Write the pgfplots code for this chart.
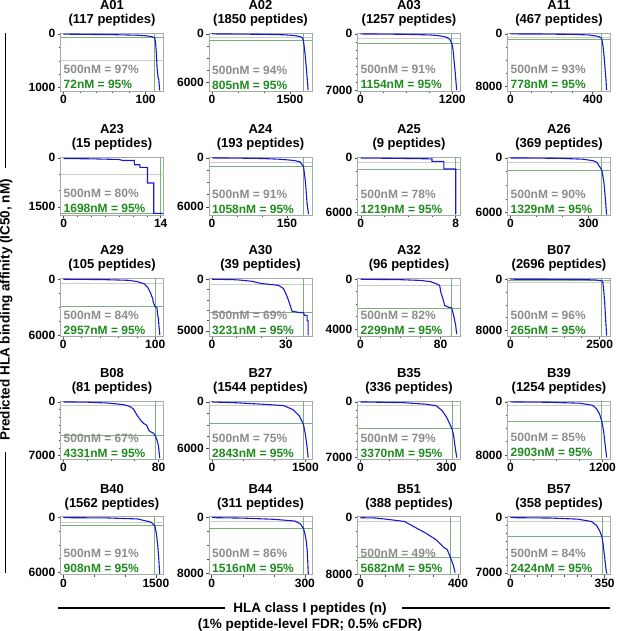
\documentclass[border=0pt]{standalone}
\usepackage{fontspec}
\setmainfont{Liberation Sans}
\usepackage{pgfplots}
\pgfplotsset{compat=1.18}
\definecolor{cblue}{RGB}{25,25,210}
\definecolor{glinec}{RGB}{120,180,120}
\definecolor{gtextc}{RGB}{30,140,30}
\definecolor{grtextc}{RGB}{140,140,140}
\definecolor{grlinec}{RGB}{205,205,205}
\definecolor{framecol}{RGB}{165,172,165}
\pgfplotsset{
 every axis title shift=0pt,
 pan/.style={
  anchor=north west, scale only axis, width=103pt, height=58pt,
  y dir=reverse, axis line style={framecol, line width=0.8pt},
  tick pos=left, tick align=outside, major tick length=3pt, minor tick length=2pt,
  every tick/.style={black!70, line width=0.6pt},
  scaled ticks=false,
  /pgf/number format/assume math mode=true,
  /pgf/number format/1000 sep={},
  tick label style={font=\bfseries\fontsize{12}{12}\selectfont},
  xticklabel style={inner sep=1pt},
  yticklabel style={inner sep=2pt},
  title style={font=\bfseries\fontsize{13}{14}\selectfont, align=center, at={(0.5,1)}, anchor=south, inner sep=0pt, yshift=6.5pt},
  clip=true,
 },
 curve/.style={cblue, line width=1.1pt, no marks},
 gfive/.style={grlinec, line width=0.8pt, no marks},
 gthr/.style={glinec, line width=0.8pt, no marks},
}
% #1 xmin #2 xmax #3 ymin #4 ymax #5 threshold #6 vertical x
\newcommand{\refl}[6]{%
 \addplot[gfive] coordinates {(#1,500) (#2,500)};
 \addplot[gthr] coordinates {(#1,#5) (#2,#5)};
 \addplot[gthr] coordinates {(#6,#3) (#6,#4)};
}
% #1 percent at 500 nM, #2 threshold
\newcommand{\ptxt}[2]{%
 \node[anchor=base west, inner sep=0pt, text=grtextc, font=\bfseries\fontsize{12}{12}\selectfont, xshift=3pt, yshift=17pt] at (axis description cs:0,0) {500nM = #1\%};
 \node[anchor=base west, inner sep=0pt, text=gtextc, font=\bfseries\fontsize{12}{12}\selectfont, xshift=3pt, yshift=2pt] at (axis description cs:0,0) {#2nM = 95\%};
}
\begin{document}
\begin{tikzpicture}
\useasboundingbox (0,0) rectangle (617pt,-631pt);

% ---------------- Row 1 ----------------
\begin{axis}[pan, at={(60.5pt,-33pt)}, xmin=-3.5, xmax=121.7, ymin=-16, ymax=1060,
  xtick={0,100}, ytick={0,1000}, minor x tick num=4, minor y tick num=3,
  title={A01\\(117 peptides)}]
\refl{-3.5}{121.7}{-16}{1060}{72}{111.2}
\addplot[curve] coordinates {(0,5) (30,10) (60,15) (90,25) (100,35) (105,45) (108,55) (111,72) (112,150) (113,350) (113.5,500) (114,650) (115,800) (116,850) (116.5,950) (117,1050)};
\ptxt{97}{72}
\end{axis}

\begin{axis}[pan, at={(209pt,-33pt)}, xmin=-55, xmax=1924, ymin=-105, ymax=7100,
  xtick={0,1500}, ytick={0,6000}, minor x tick num=2, minor y tick num=3,
  title={A02\\(1850 peptides)}]
\refl{-55}{1924}{-105}{7100}{805}{1757.5}
\addplot[curve] coordinates {(0,10) (500,30) (1000,60) (1400,120) (1600,220) (1700,350) (1739,500) (1757,805) (1775,1600) (1795,2800) (1815,4200) (1835,5800) (1850,7000)};
\ptxt{94}{805}
\end{axis}

\begin{axis}[pan, at={(357.5pt,-33pt)}, xmin=-38, xmax=1307, ymin=-105, ymax=7050,
  xtick={0,1200}, ytick={0,7000}, minor x tick num=3, minor y tick num=6,
  title={A03\\(1257 peptides)}]
\refl{-38}{1307}{-105}{7050}{1154}{1194}
\addplot[curve] coordinates {(0,10) (300,30) (600,60) (900,130) (1000,200) (1100,350) (1144,500) (1170,750) (1194,1154) (1210,2000) (1225,3500) (1240,5000) (1257,6950)};
\ptxt{91}{1154}
\end{axis}

\begin{axis}[pan, at={(507.5pt,-33pt)}, xmin=-14, xmax=486, ymin=-130, ymax=8750,
  xtick={0,400}, ytick={0,8000}, minor x tick num=3, minor y tick num=3,
  title={A11\\(467 peptides)}]
\refl{-14}{486}{-130}{8750}{778}{443.6}
\addplot[curve] coordinates {(0,10) (150,30) (300,80) (380,170) (420,350) (434,500) (444,778) (450,2000) (455,3500) (460,5500) (464,7000) (467,8600)};
\ptxt{93}{778}
\end{axis}

% ---------------- Row 2 ----------------
\begin{axis}[pan, at={(60.5pt,-157pt)}, xmin=-0.45, xmax=14.4, ymin=-26, ymax=1750,
  xtick={0,14}, ytick={0,1500}, minor x tick num=6, minor y tick num=2,
  title={A23\\(15 peptides)}]
\refl{-0.45}{14.4}{-26}{1750}{1698}{13.9}
\addplot[curve] coordinates {(0,20) (4,30) (8,50) (8.5,80) (10.2,80) (10.2,210) (11,210) (11,290) (12.1,290) (12.1,770) (13,770) (13,1698) (14.3,1698)};
\ptxt{80}{1698}
\end{axis}

\begin{axis}[pan, at={(209pt,-157pt)}, xmin=-6, xmax=200, ymin=-105, ymax=7000,
  xtick={0,150}, ytick={0,6000}, minor x tick num=2, minor y tick num=3,
  title={A24\\(193 peptides)}]
\refl{-6}{200}{-105}{7000}{1058}{183.4}
\addplot[curve] coordinates {(0,10) (50,30) (100,80) (140,180) (165,330) (176,500) (183,1058) (186,2500) (188,3800) (190,5500) (193,6900)};
\ptxt{91}{1058}
\end{axis}

\begin{axis}[pan, at={(357.5pt,-157pt)}, xmin=-0.28, xmax=8.4, ymin=-94, ymax=6250,
  xtick={0,8}, ytick={0,6000}, minor x tick num=3, minor y tick num=3,
  title={A25\\(9 peptides)}]
\refl{-0.28}{8.4}{-94}{6250}{1219}{8}
\addplot[curve] coordinates {(0,20) (2,40) (4,70) (6,110) (6,390) (7,390) (7,1219) (8,1219) (8,6150)};
\ptxt{78}{1219}
\end{axis}

\begin{axis}[pan, at={(507.5pt,-157pt)}, xmin=-11, xmax=384, ymin=-94, ymax=6250,
  xtick={0,300}, ytick={0,6000}, minor x tick num=2, minor y tick num=3,
  title={A26\\(369 peptides)}]
\refl{-11}{384}{-94}{6250}{1329}{350.5}
\addplot[curve] coordinates {(0,10) (100,25) (200,60) (280,150) (320,330) (332,500) (350.5,1329) (358,2500) (363,4000) (367,5500) (369,6200)};
\ptxt{90}{1329}
\end{axis}

% ---------------- Row 3 ----------------
\begin{axis}[pan, at={(60.5pt,-278.3pt)}, xmin=-3, xmax=109, ymin=-92, ymax=6150,
  xtick={0,100}, ytick={0,6000}, minor x tick num=4, minor y tick num=3,
  title={A29\\(105 peptides)}]
\refl{-3}{109}{-92}{6150}{2957}{99.75}
\addplot[curve] coordinates {(0,10) (40,40) (70,120) (80,250) (88,500) (92,900) (94,1300) (95,1500) (96,1800) (97,2000) (98,2500) (99.7,2957) (102,3100) (102.5,3800) (103.5,4200) (104,5000) (105,6000)};
\ptxt{84}{2957}
\end{axis}

\begin{axis}[pan, at={(209pt,-278.3pt)}, xmin=-1.2, xmax=40.6, ymin=-83, ymax=5530,
  xtick={0,30}, ytick={0,5000}, minor x tick num=2, minor y tick num=4,
  title={A30\\(39 peptides)}]
\refl{-1.2}{40.6}{-83}{5530}{3231}{37.3}
\addplot[curve] coordinates {(0,10) (8,40) (11,80) (16,200) (20,420) (24,520) (27,600) (29,900) (30,1400) (31,2000) (32.5,3100) (35.5,3231) (37,3231) (37.6,3500) (38.6,3500) (38.6,4000) (39,4000) (39,5450)};
\ptxt{69}{3231}
\end{axis}

\begin{axis}[pan, at={(357.5pt,-278.3pt)}, xmin=-3, xmax=99.8, ymin=-69, ymax=4570,
  xtick={0,80}, ytick={0,4000}, minor x tick num=3, minor y tick num=3,
  title={A32\\(96 peptides)}]
\refl{-3}{99.8}{-69}{4570}{2299}{91.2}
\addplot[curve] coordinates {(0,10) (40,40) (60,100) (70,200) (76,380) (79,500) (80,1000) (82,1500) (84,2100) (88,2250) (91,2299) (93,2900) (94,3300) (95,3700) (96,4400)};
\ptxt{82}{2299}
\end{axis}

\begin{axis}[pan, at={(507.5pt,-278.3pt)}, xmin=-80, xmax=2804, ymin=-133, ymax=8900,
  xtick={0,2500}, ytick={0,8000}, minor x tick num=4, minor y tick num=3,
  title={B07\\(2696 peptides)}]
\refl{-80}{2804}{-133}{8900}{265}{2561}
\addplot[curve] coordinates {(0,5) (1000,20) (2000,60) (2400,130) (2561,265) (2588,500) (2610,1500) (2640,3500) (2665,6000) (2696,8800)};
\ptxt{96}{265}
\end{axis}

% ---------------- Row 4 ----------------
\begin{axis}[pan, at={(60.5pt,-401pt)}, xmin=-2.4, xmax=84.2, ymin=-111, ymax=7420,
  xtick={0,80}, ytick={0,7000}, minor x tick num=3, minor y tick num=6,
  title={B08\\(81 peptides)}]
\refl{-2.4}{84.2}{-111}{7420}{4331}{77}
\addplot[curve] coordinates {(0,10) (20,40) (37,150) (50,350) (54,500) (57,700) (59,950) (62,1750) (65,2400) (67.5,2800) (70,3030) (71.7,3650) (73,3860) (75.9,4070) (77,4331) (78.6,4900) (80,5740) (81,7300)};
\ptxt{67}{4331}
\end{axis}

\begin{axis}[pan, at={(209pt,-401pt)}, xmin=-46, xmax=1606, ymin=-110, ymax=7375,
  xtick={0,1500}, ytick={0,6000}, minor x tick num=2, minor y tick num=3,
  title={B27\\(1544 peptides)}]
\refl{-46}{1606}{-110}{7375}{2843}{1467}
\addplot[curve] coordinates {(0,20) (400,120) (800,300) (1000,400) (1158,500) (1300,1000) (1400,1800) (1467,2843) (1500,4200) (1525,5700) (1544,7200)};
\ptxt{75}{2843}
\end{axis}

\begin{axis}[pan, at={(357.5pt,-401pt)}, xmin=-10, xmax=349, ymin=-107, ymax=7170,
  xtick={0,300}, ytick={0,7000}, minor x tick num=2, minor y tick num=6,
  title={B35\\(336 peptides)}]
\refl{-10}{349}{-107}{7170}{3370}{319}
\addplot[curve] coordinates {(0,10) (150,100) (230,300) (265,500) (285,1100) (300,1900) (312,2800) (319,3370) (325,4200) (330,5600) (336,7000)};
\ptxt{79}{3370}
\end{axis}

\begin{axis}[pan, at={(507.5pt,-401pt)}, xmin=-38, xmax=1304, ymin=-129, ymax=8600,
  xtick={0,1200}, ytick={0,8000}, minor x tick num=3, minor y tick num=3,
  title={B39\\(1254 peptides)}]
\refl{-38}{1304}{-129}{8600}{2903}{1191}
\addplot[curve] coordinates {(0,10) (500,60) (900,200) (1066,500) (1120,1000) (1160,1800) (1191,2903) (1215,4500) (1235,6500) (1254,8400)};
\ptxt{85}{2903}
\end{axis}

% ---------------- Row 5 ----------------
\begin{axis}[pan, at={(60.5pt,-516.7pt)}, xmin=-47, xmax=1624, ymin=-94, ymax=6280,
  xtick={0,1500}, ytick={0,6000}, minor x tick num=2, minor y tick num=3,
  title={B40\\(1562 peptides)}]
\refl{-47}{1624}{-94}{6280}{908}{1484}
\addplot[curve] coordinates {(0,10) (700,40) (1200,150) (1421,500) (1484,908) (1510,1800) (1530,3000) (1550,4800) (1562,6200)};
\ptxt{91}{908}
\end{axis}

\begin{axis}[pan, at={(209pt,-516.7pt)}, xmin=-9, xmax=323, ymin=-123, ymax=8230,
  xtick={0,300}, ytick={0,8000}, minor x tick num=2, minor y tick num=3,
  title={B44\\(311 peptides)}]
\refl{-9}{323}{-123}{8230}{1516}{295.5}
\addplot[curve] coordinates {(0,10) (100,80) (200,250) (267,500) (285,900) (295,1516) (300,2300) (305,3500) (308,5000) (311,8100)};
\ptxt{86}{1516}
\end{axis}

\begin{axis}[pan, at={(357.5pt,-516.7pt)}, xmin=-12, xmax=410, ymin=-121, ymax=8090,
  xtick={0,400}, ytick={0,8000}, minor x tick num=3, minor y tick num=3,
  title={B51\\(388 peptides)}]
\refl{-12}{410}{-121}{8090}{5682}{368.6}
\addplot[curve] coordinates {(0,20) (60,60) (110,250) (180,550) (230,1500) (270,2250) (310,3140) (330,3820) (343,4270) (355,4500) (369,5682) (380,6700) (388,7800)};
\ptxt{49}{5682}
\end{axis}

\begin{axis}[pan, at={(507.5pt,-516.7pt)}, xmin=-11, xmax=372, ymin=-109, ymax=7240,
  xtick={0,350}, ytick={0,7000}, minor x tick num=6, minor y tick num=6,
  title={B57\\(358 peptides)}]
\refl{-11}{372}{-109}{7240}{2424}{340}
\addplot[curve] coordinates {(0,10) (150,60) (250,200) (301,500) (320,1000) (332,1700) (340,2424) (345,3500) (350,5000) (355,6500) (358,7100)};
\ptxt{84}{2424}
\end{axis}

% ---------------- Outer labels ----------------
\node[rotate=90, anchor=base, inner sep=0pt, font=\bfseries\fontsize{13.5}{14}\selectfont] at (9.5pt,-310pt) {Predicted HLA binding affinity (IC50, nM)};
\draw[line width=1.2pt] (5.5pt,-33pt) -- (5.5pt,-168pt);
\draw[line width=1.2pt] (5.5pt,-452pt) -- (5.5pt,-573pt);
\draw[line width=1.2pt] (58pt,-608pt) -- (225pt,-608pt);
\draw[line width=1.2pt] (402pt,-608pt) -- (610pt,-608pt);
\node[anchor=base, inner sep=0pt, font=\bfseries\fontsize{13.5}{14}\selectfont] at (310pt,-612.5pt) {HLA class I peptides (n)};
\node[anchor=base, inner sep=0pt, font=\bfseries\fontsize{13.5}{14}\selectfont] at (310pt,-628pt) {(1\% peptide-level FDR; 0.5\% cFDR)};
\end{tikzpicture}
\end{document}
